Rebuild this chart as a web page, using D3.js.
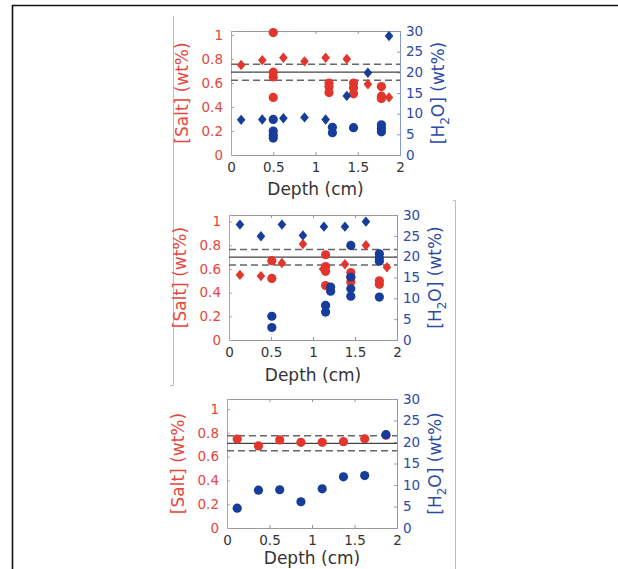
<!DOCTYPE html>
<html>
<head>
<meta charset="utf-8">
<script src="https://cdn.jsdelivr.net/npm/d3@7"></script>
<style>
  body { margin: 0; background: #fff; }
  text { font-family: "DejaVu Sans", sans-serif; }
</style>
</head>
<body>
<svg width="618" height="569"></svg>
<script>
// tick values
var depthTicks = [0, 0.5, 1, 1.5, 2];
var saltTicks = [0, 0.2, 0.4, 0.6, 0.8, 1];
var waterTicks = [0, 5, 10, 15, 20, 25, 30];

// left axis upper limit per panel, and the reference lines (lower dashed, solid, upper dashed)
var saltMax = [1.033, 1.056, 1.084];
var refLines = [[0.623, 0.69, 0.757], [0.633, 0.70, 0.765], [0.649, 0.711, 0.775]];

// panel 1 : [depth, value]
var salt1Dia = [[0.12,0.75],[0.37,0.79],[0.62,0.81],[0.87,0.78],[1.12,0.81],[1.37,0.80],[1.62,0.59],[1.87,0.48]];
var salt1Dot = [[0.5,1.02],[0.5,0.69],[0.5,0.65],[0.5,0.48],[1.16,0.60],[1.16,0.57],[1.16,0.52],
                [1.45,0.60],[1.45,0.56],[1.45,0.51],[1.78,0.57],[1.78,0.49],[1.78,0.47]];
var water1Dia = [[0.12,8.5],[0.37,8.6],[0.62,8.9],[0.87,9.1],[1.12,8.6],[1.37,14.3],[1.62,19.9],[1.87,28.8]];
var water1Dot = [[0.5,8.6],[0.5,5.8],[0.5,4.9],[0.5,4.1],[1.2,6.7],[1.2,5.4],[1.45,6.6],
                 [1.78,7.3],[1.78,6.5],[1.78,5.6]];

// panel 2
var salt2Dia = [[0.13,0.55],[0.38,0.54],[0.63,0.65],[0.88,0.81],[1.12,0.60],[1.38,0.64],[1.63,0.80],[1.88,0.615]];
var salt2Dot = [[0.51,0.67],[0.51,0.52],[1.15,0.72],[1.15,0.62],[1.15,0.58],[1.15,0.46],
                [1.45,0.57],[1.45,0.53],[1.45,0.49],[1.79,0.50],[1.79,0.47]];
var water2Dia = [[0.13,27.7],[0.38,24.9],[0.63,27.7],[0.88,25.1],[1.13,27.2],[1.38,27.2],[1.63,28.4]];
var water2Dot = [[0.51,5.7],[0.51,3.0],[1.15,8.3],[1.15,6.7],[1.21,12.7],[1.21,11.7],
                 [1.45,22.7],[1.45,15.1],[1.45,12.3],[1.45,10.5],
                 [1.79,20.7],[1.79,19.7],[1.79,18.9],[1.79,10.3]];

// panel 3
var salt3Dia = [];
var salt3Dot = [[0.12,0.747],[0.37,0.69],[0.62,0.74],[0.87,0.72],[1.12,0.72],[1.37,0.725],[1.62,0.75],[1.87,0.78]];
var water3Dia = [];
var water3Dot = [[0.12,4.6],[0.37,8.8],[0.62,8.9],[0.87,6.1],[1.12,9.1],[1.37,11.9],[1.62,12.2],[1.87,21.7]];

var svg = d3.select("svg");

var RED = "#e2352b", BLUE = "#163d9b";

// frame and page lines
svg.append("line").attr("x1", 12.5).attr("y1", 5).attr("x2", 12.5).attr("y2", 569)
    .attr("stroke", "#111").attr("stroke-width", 1.6);
svg.append("line").attr("x1", 12).attr("y1", 5.5).attr("x2", 618).attr("y2", 5.5)
    .attr("stroke", "#111").attr("stroke-width", 1.6);
svg.append("path").attr("d", "M173.5,16V385.5H170").attr("fill", "none").attr("stroke", "#bbb");
svg.append("path").attr("d", "M453,200.5H455.5V569").attr("fill", "none").attr("stroke", "#bbb");

var panels = [
    { l: 231, r: 400, t: 31, b: 155, lab: 40, saltDia: salt1Dia, saltDot: salt1Dot, waterDia: water1Dia, waterDot: water1Dot },
    { l: 229, r: 397, t: 215, b: 340, lab: 41, saltDia: salt2Dia, saltDot: salt2Dot, waterDia: water2Dia, waterDot: water2Dot },
    { l: 227, r: 397, t: 399, b: 528, lab: 36, saltDia: salt3Dia, saltDot: salt3Dot, waterDia: water3Dia, waterDot: water3Dot }
];

var diamond = {
    draw: function(ctx) {
        ctx.moveTo(0, -5.2); ctx.lineTo(4.3, 0); ctx.lineTo(0, 5.2); ctx.lineTo(-4.3, 0); ctx.closePath();
    }
};

panels.forEach(function(p, i) {
    var x = d3.scaleLinear().domain([0, 2]).range([p.l, p.r]);
    var yS = d3.scaleLinear().domain([0, saltMax[i]]).range([p.b, p.t]);
    var yW = d3.scaleLinear().domain([0, 30]).range([p.b, p.t]);
    var g = svg.append("g");

    // top and bottom box edges with inward ticks
    g.append("g").attr("transform", "translate(0," + p.t + ")")
        .call(d3.axisTop(x).tickValues(depthTicks).tickSize(-3).tickFormat(""))
        .call(function(a) { a.selectAll("path,line").attr("stroke", "#999"); });
    var xa = g.append("g").attr("transform", "translate(0," + p.b + ")")
        .call(d3.axisBottom(x).tickValues(depthTicks).tickSize(-3).tickPadding(7).tickFormat(d3.format("")));
    xa.selectAll("path,line").attr("stroke", "#999");
    xa.selectAll("text").attr("fill", "#333").style("font-size", "13.5px");

    // left salt axis
    var la = g.append("g").attr("transform", "translate(" + p.l + ",0)")
        .call(d3.axisLeft(yS).tickValues(saltTicks).tickSize(-3).tickPadding(8).tickFormat(d3.format("")));
    la.selectAll("path,line").attr("stroke", "#f08a84");
    la.selectAll("text").attr("fill", "#e6463c").style("font-size", "13.5px");

    // right water axis
    var ra = g.append("g").attr("transform", "translate(" + p.r + ",0)")
        .call(d3.axisRight(yW).tickValues(waterTicks).tickSize(-3).tickPadding(6));
    ra.selectAll("path,line").attr("stroke", "#8798cc");
    ra.selectAll("text").attr("fill", "#2c4aa6").style("font-size", "13.5px");

    // reference lines
    g.selectAll(".ref").data(refLines[i]).enter().append("line")
        .attr("x1", p.l).attr("x2", p.r)
        .attr("y1", function(d) { return yS(d); }).attr("y2", function(d) { return yS(d); })
        .attr("stroke", function(d, k) { return k === 1 ? "#444" : "#666"; })
        .attr("stroke-width", function(d, k) { return k === 1 ? 1.3 : 1.5; })
        .attr("stroke-dasharray", function(d, k) { return k === 1 ? null : "7,4"; });

    // markers: salt first, water on top
    function dia(data, y, col) {
        g.selectAll(null).data(data).enter().append("path")
            .attr("d", d3.symbol().type(diamond))
            .attr("transform", function(d) { return "translate(" + x(d[0]) + "," + y(d[1]) + ")"; })
            .attr("fill", col);
    }
    function dot(data, y, col) {
        g.selectAll(null).data(data).enter().append("circle")
            .attr("cx", function(d) { return x(d[0]); })
            .attr("cy", function(d) { return y(d[1]); })
            .attr("r", 4.6).attr("fill", col);
    }
    dia(p.saltDia, yS, RED);
    dot(p.saltDot, yS, RED);
    dia(p.waterDia, yW, BLUE);
    dot(p.waterDot, yW, BLUE);

    // titles
    var mid = (p.t + p.b) / 2;
    g.append("text").attr("x", (p.l + p.r) / 2).attr("y", p.b + p.lab)
        .attr("text-anchor", "middle").attr("fill", "#333").style("font-size", "17px")
        .text("Depth (cm)");
    g.append("text").attr("transform", "translate(" + (p.l - 43) + "," + mid + ") rotate(-90)")
        .attr("text-anchor", "middle").attr("fill", "#e6463c").style("font-size", "17px")
        .text("[Salt] (wt%)");
    var h = g.append("text").attr("transform", "translate(" + (p.r + 44) + "," + mid + ") rotate(-90)")
        .attr("text-anchor", "middle").attr("fill", "#2c4aa6").style("font-size", "17px");
    h.append("tspan").text("[H");
    h.append("tspan").attr("dy", 5).style("font-size", "12px").text("2");
    h.append("tspan").attr("dy", -5).text("O] (wt%)");
});
</script>
</body>
</html>
